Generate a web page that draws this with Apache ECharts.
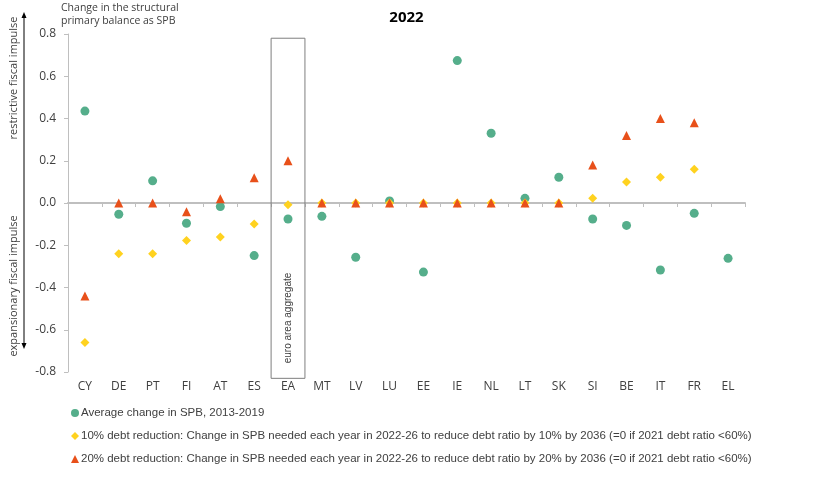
<!doctype html>
<html>
<head>
<meta charset="UTF-8">
<script src="https://cdn.jsdelivr.net/npm/echarts@6/dist/echarts.min.js"></script>
<style>
  html, body { margin: 0; padding: 0; background: #fff; }
  #main { width: 813px; height: 486px; }
</style>
</head>
<body>
<div id="main"></div>
<script type="text/javascript">
    // countries on the x axis
    var countries = ['CY', 'DE', 'PT', 'FI', 'AT', 'ES', 'EA', 'MT', 'LV', 'LU', 'EE', 'IE', 'NL', 'LT', 'SK', 'SI', 'BE', 'IT', 'FR', 'EL'];
    // average change in SPB 2013-2019
    var avgSpb = [0.435, -0.053, 0.105, -0.096, -0.017, -0.249, -0.076, -0.063, -0.257, 0.01, -0.327, 0.674, 0.33, 0.022, 0.122, -0.076, -0.106, -0.317, -0.049, -0.262];
    // 10% debt reduction
    var debt10 = [-0.66, -0.24, -0.24, -0.178, -0.161, -0.099, -0.008, 0, 0, 0, 0, 0, 0, 0, 0, 0.022, 0.1, 0.122, 0.16, null];
    // 20% debt reduction
    var debt20 = [-0.44, 0, 0, -0.041, 0.02, 0.12, 0.2, 0, 0, 0, 0, 0, 0, 0, 0, 0.18, 0.32, 0.4, 0.38, null];
    var yTicks = { min: -0.8, max: 0.8, step: 0.2 };

    var names = [
        'Average change in SPB, 2013-2019',
        '10% debt reduction: Change in SPB needed each year in 2022-26 to reduce debt ratio by 10% by 2036 (=0 if 2021 debt ratio <60%)',
        '20% debt reduction: Change in SPB needed each year in 2022-26 to reduce debt ratio by 20% by 2036 (=0 if 2021 debt ratio <60%)'
    ];
    var txt = '#404040';
    var axisGray = '#BFBFBF';

    var myChart = echarts.init(document.getElementById('main'));
    var option = {
        animation: false,
        title: {
            text: '2022',
            left: 'center',
            top: 5,
            textStyle: { fontFamily: 'Open Sans', fontSize: 15, fontWeight: 'bold', color: '#000' }
        },
        legend: {
            orient: 'vertical',
            left: 66,
            top: 402,
            itemGap: 11,
            itemWidth: 8,
            itemHeight: 8,
            textStyle: { fontFamily: 'Liberation Sans', fontSize: 11.5, color: txt, padding: [0, 0, 0, -3] },
            data: names
        },
        grid: { left: 68, right: 68, top: 34, bottom: 114 },
        xAxis: [{
            type: 'category',
            data: countries,
            position: 'bottom',
            axisLine: { show: false, onZero: false },
            axisTick: { show: false },
            axisLabel: { fontFamily: 'Open Sans', fontSize: 12, color: txt, margin: 9 }
        }, {
            type: 'category',
            data: countries,
            position: 'top',
            axisLine: { show: true, onZero: true, onZeroAxisIndex: 0, lineStyle: { color: axisGray, width: 2 } },
            axisTick: { show: true, inside: true, length: 4, lineStyle: { color: axisGray } },
            axisLabel: { show: false }
        }],
        yAxis: {
            type: 'value',
            min: yTicks.min,
            max: yTicks.max,
            interval: yTicks.step,
            splitLine: { show: false },
            axisLine: { show: true, lineStyle: { color: axisGray } },
            axisTick: { show: true, length: 4, lineStyle: { color: axisGray } },
            axisLabel: {
                fontFamily: 'Open Sans', fontSize: 12, color: txt, margin: 12,
                formatter: function (v) { return v.toFixed(1); }
            }
        },
        series: [{
            name: names[0],
            type: 'scatter',
            symbol: 'circle',
            symbolSize: 9,
            itemStyle: { color: '#55AE8B', opacity: 1 },
            data: avgSpb
        }, {
            name: names[1],
            type: 'scatter',
            symbol: 'diamond',
            symbolSize: 9,
            itemStyle: { color: '#FFD21F', opacity: 1 },
            data: debt10
        }, {
            name: names[2],
            type: 'scatter',
            symbol: 'triangle',
            symbolSize: 9,
            itemStyle: { color: '#E8501A', opacity: 1 },
            data: debt20
        }]
    };
    myChart.setOption(option);

    // euro area box, drawn from the axes
    var eaX = myChart.convertToPixel({ xAxisIndex: 0 }, 'EA');
    var bw = myChart.convertToPixel({ xAxisIndex: 0 }, 'MT') - eaX;
    var boxTop = myChart.convertToPixel({ yAxisIndex: 0 }, 0.78);
    var boxBot = myChart.convertToPixel({ yAxisIndex: 0 }, -0.83);

    myChart.setOption({
        graphic: [
            {
                type: 'rect', z: 1,
                shape: { x: eaX - bw / 2, y: boxTop, width: bw, height: boxBot - boxTop },
                style: { fill: 'none', stroke: '#7F7F7F', lineWidth: 1 }
            },
            {
                type: 'text', z: 5,
                x: eaX, y: 318, rotation: Math.PI / 2,
                style: { text: 'euro area aggregate', fontFamily: 'Liberation Sans', fontSize: 10, fill: txt, align: 'center', verticalAlign: 'middle' }
            },
            // left fiscal impulse arrow
            {
                type: 'line',
                shape: { x1: 24, y1: 16, x2: 24, y2: 345 },
                style: { stroke: '#000', lineWidth: 1 }
            },
            {
                type: 'polygon',
                shape: { points: [[24, 12], [21.5, 18], [26.5, 18]] },
                style: { fill: '#000' }
            },
            {
                type: 'polygon',
                shape: { points: [[24, 349], [21.5, 343], [26.5, 343]] },
                style: { fill: '#000' }
            },
            {
                type: 'text',
                x: 14, y: 78, rotation: Math.PI / 2,
                style: { text: 'restrictive fiscal impulse', fontFamily: 'Open Sans', fontSize: 11, fill: txt, align: 'center', verticalAlign: 'middle' }
            },
            {
                type: 'text',
                x: 14, y: 286, rotation: Math.PI / 2,
                style: { text: 'expansionary fiscal impulse', fontFamily: 'Open Sans', fontSize: 11, fill: txt, align: 'center', verticalAlign: 'middle' }
            },
            {
                type: 'text',
                x: 61, y: 2,
                style: { text: 'Change in the structural\nprimary balance as SPB', fontFamily: 'Open Sans', fontSize: 10.5, lineHeight: 13, fill: txt, align: 'left', verticalAlign: 'top' }
            }
        ]
    });
</script>
</body>
</html>
